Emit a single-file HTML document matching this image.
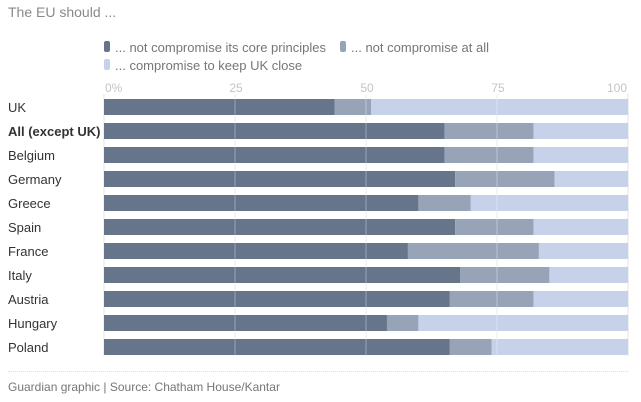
<!DOCTYPE html>
<html><head><meta charset="utf-8"><style>
body{margin:0;background:#fff;font-family:"Liberation Sans",Arial,sans-serif;}
#wrap{position:relative;width:641px;height:402px;overflow:hidden}
.t{position:absolute;white-space:nowrap}
</style></head><body><div id="wrap">
<div class="t" style="left:8px;top:4px;font-size:14px;color:#8a8a8a">The EU should ...</div>
<div class="t" style="left:104px;top:40px;font-size:13px;color:#767676"><span style="display:inline-block;width:6px;height:11px;background:#66758a;border-radius:2px;margin-right:5px"></span>... not compromise its core principles</div>
<div class="t" style="left:340px;top:40px;font-size:13px;color:#767676"><span style="display:inline-block;width:6px;height:11px;background:#97a4b8;border-radius:2px;margin-right:5px"></span>... not compromise at all</div>
<div class="t" style="left:104px;top:58px;font-size:13px;color:#767676"><span style="display:inline-block;width:6px;height:11px;background:#c5d2e9;border-radius:2px;margin-right:5px"></span>... compromise to keep UK close</div>
<svg id="svg" width="641" height="402" style="position:absolute;left:0;top:0"></svg>
<div style="position:absolute;left:8px;top:371px;width:620px;border-top:1px dotted #ddd"></div>
<div class="t" style="left:8px;top:380px;font-size:12px;color:#767676">Guardian graphic | Source: Chatham House/Kantar</div>
</div>
<script>
const categories=["UK","All (except UK)","Belgium","Germany","Greece","Spain","France","Italy","Austria","Hungary","Poland"];
const corePrinciples=[44,65,65,67,60,67,58,68,66,54,66];
const notAtAll=[7,17,17,19,10,15,25,17,16,6,8];
const tickValues=[0,25,50,75,100];
const tickLabels=["0%","25","50","75","100"];
const NS="http://www.w3.org/2000/svg";
const svg=document.getElementById('svg');
const x=v=>104+v*5.24;
const y=i=>99+i*24;
function mk(t,a){const e=document.createElementNS(NS,t);for(const k in a)e.setAttribute(k,a[k]);svg.appendChild(e);return e;}
tickValues.forEach((v,i)=>{
 const l=mk('line',{x1:x(v),x2:x(v),y1:94,y2:356,stroke:'#e2e2e2','stroke-width':1});
 
 
 const t=mk('text',{x:x(v)+(i==4?-1:1),y:92,'font-size':12,fill:'#c4c4c4','text-anchor':i==4?'end':(i==0?'start':'middle'),'font-family':'Liberation Sans, sans-serif'});
 t.textContent=tickLabels[i];
 
 
});
categories.forEach((c,i)=>{
 const a=corePrinciples[i],b=notAtAll[i];
 const segs=[[0,a,'#66758a'],[a,a+b,'#97a4b8'],[a+b,100,'#c5d2e9']];
 segs.forEach(s=>{
  const r=mk('rect',{x:x(s[0]),y:y(i),width:x(s[1])-x(s[0]),height:16,fill:s[2]});
  
  
 });
 const t=mk('text',{x:8,y:y(i)+13,'font-size':13,fill:'#333','font-weight':i==1?'bold':'normal','font-family':'Liberation Sans, sans-serif'});
 t.textContent=c;
 
 
});
tickValues.slice(1,4).forEach(v=>{
 const l=mk('line',{x1:x(v),x2:x(v),y1:94,y2:356,stroke:'#ffffff','stroke-opacity':0.35,'stroke-width':1});
 
 
});
</script></body></html>
